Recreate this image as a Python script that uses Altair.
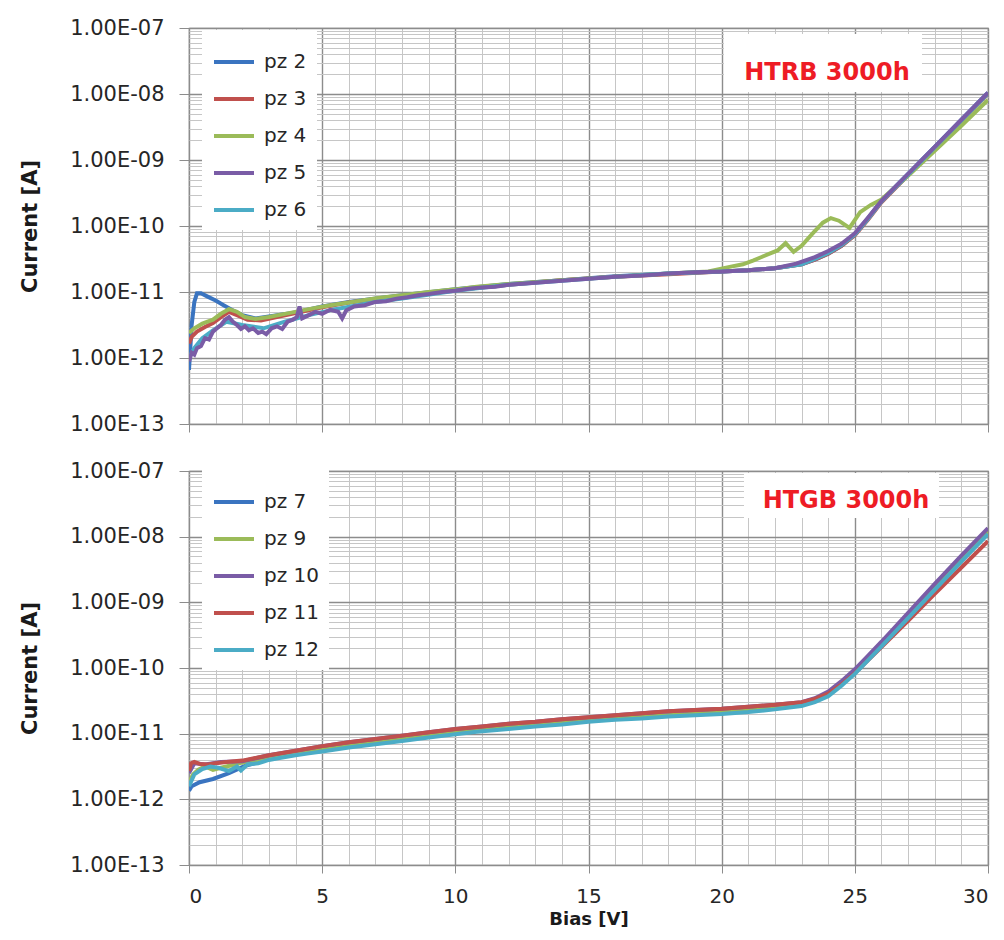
import altair as alt
import pandas as pd

# ---------------- data (log10 of current in A) ----------------
panel_labels = ["HTRB 3000h", "HTGB 3000h"]
htrb_series = ["pz 2", "pz 3", "pz 4", "pz 5", "pz 6"]
htgb_series = ["pz 7", "pz 9", "pz 10", "pz 11", "pz 12"]

# HTRB panel
pz2_v = [0, 0.05, 0.1, 0.2, 0.3, 0.45, 0.7, 1.0, 1.3, 1.6, 2.0, 2.5, 3, 4, 5, 6, 8, 10, 12, 14, 16, 18, 20, 21, 22, 23, 23.5, 24, 24.5, 25, 25.5, 26, 27, 28, 29, 30]
pz2_l = [-12.18, -11.85, -11.5, -11.15, -11.02, -11.02, -11.07, -11.13, -11.2, -11.27, -11.35, -11.4, -11.37, -11.31, -11.22, -11.15, -11.05, -10.96, -10.88, -10.82, -10.76, -10.72, -10.69, -10.67, -10.64, -10.58, -10.51, -10.42, -10.3, -10.13, -9.88, -9.62, -9.21, -8.8, -8.39, -7.98]

pz3_v = [0, 0.1, 0.3, 0.6, 0.9, 1.2, 1.5, 1.8, 2.2, 2.7, 3.3, 4, 5, 6, 8, 10, 12, 14, 16, 18, 20, 21, 22, 23, 23.5, 24, 24.5, 25, 25.5, 26, 27, 28, 29, 30]
pz3_l = [-11.78, -11.68, -11.6, -11.53, -11.47, -11.38, -11.3, -11.35, -11.42, -11.43, -11.38, -11.32, -11.23, -11.16, -11.06, -10.97, -10.89, -10.82, -10.77, -10.73, -10.69, -10.67, -10.64, -10.58, -10.51, -10.42, -10.3, -10.14, -9.9, -9.64, -9.23, -8.82, -8.41, -8.0]

pz4_v = [0, 0.2, 0.5, 0.9, 1.2, 1.5, 1.8, 2.1, 2.5, 3, 3.75, 4.5, 5.3, 6, 7.1, 8, 9, 10, 10.8, 12, 14, 16, 18, 19.5, 20.3, 20.8, 21.2, 21.5, 21.8, 22.1, 22.4, 22.7, 23.0, 23.4, 23.8, 24.1, 24.4, 24.8, 25.2, 25.6, 26, 27, 28, 29, 30]
pz4_l = [-11.62, -11.55, -11.48, -11.42, -11.33, -11.26, -11.3, -11.38, -11.41, -11.38, -11.32, -11.26, -11.2, -11.16, -11.09, -11.05, -11.0, -10.96, -10.92, -10.88, -10.82, -10.77, -10.72, -10.69, -10.62, -10.58, -10.52, -10.47, -10.42, -10.37, -10.26, -10.39, -10.3, -10.12, -9.95, -9.88, -9.92, -10.03, -9.79, -9.68, -9.6, -9.24, -8.86, -8.48, -8.09]

pz5_v = [0, 0.1, 0.2, 0.3, 0.45, 0.6, 0.75, 0.9, 1.05, 1.2, 1.35, 1.5, 1.65, 1.8, 1.95, 2.1, 2.25, 2.4, 2.6, 2.75, 2.9, 3.1, 3.3, 3.5, 3.7, 3.9, 4.05, 4.15, 4.25, 4.5, 4.75, 5.0, 5.3, 5.6, 5.75, 5.9, 6.2, 6.6, 7.0, 7.4, 7.8, 8.2, 8.6, 9.0, 9.5, 10, 10.5, 11, 11.5, 12, 13, 14, 15, 16, 17, 18, 19, 20, 21, 22, 22.8, 23.5, 24, 24.5, 25, 25.5, 26, 27, 28, 29, 30]
pz5_l = [-12.05, -11.92, -11.95, -11.85, -11.82, -11.7, -11.72, -11.6, -11.55, -11.5, -11.42, -11.38, -11.45, -11.5, -11.56, -11.52, -11.58, -11.55, -11.62, -11.6, -11.64, -11.55, -11.52, -11.56, -11.45, -11.42, -11.38, -11.22, -11.4, -11.35, -11.3, -11.33, -11.27, -11.3, -11.4, -11.28, -11.22, -11.2, -11.15, -11.14, -11.1, -11.08, -11.05, -11.03, -11.0, -10.98, -10.95, -10.93, -10.92, -10.89, -10.86, -10.83, -10.8, -10.77, -10.75, -10.72, -10.7, -10.69, -10.67, -10.64, -10.57, -10.47, -10.38, -10.27, -10.11, -9.87, -9.62, -9.21, -8.8, -8.39, -7.98]

pz6_v = [0, 0.2, 0.5, 0.9, 1.4, 2, 2.8, 3.6, 4.5, 5.5, 7, 8, 10, 12, 14, 16, 18, 20, 21, 22, 23, 23.5, 24, 24.5, 25, 25.5, 26, 27, 28, 29, 30]
pz6_l = [-12.0, -11.85, -11.7, -11.58, -11.45, -11.5, -11.55, -11.45, -11.35, -11.26, -11.15, -11.1, -10.98, -10.89, -10.83, -10.77, -10.72, -10.69, -10.67, -10.64, -10.58, -10.5, -10.41, -10.29, -10.13, -9.89, -9.63, -9.22, -8.81, -8.4, -7.99]

# HTGB panel
pz7_v = [0, 0.1, 0.4, 0.9, 1.5, 2.1, 3, 4, 5, 6, 8, 10, 12, 14, 16, 18, 20, 21, 22, 23, 23.5, 24, 24.5, 25, 25.5, 26, 27, 28, 29, 30]
pz7_l = [-11.87, -11.8, -11.74, -11.69, -11.6, -11.49, -11.39, -11.31, -11.24, -11.18, -11.08, -10.98, -10.9, -10.83, -10.77, -10.72, -10.67, -10.64, -10.61, -10.56, -10.5, -10.4, -10.24, -10.06, -9.85, -9.64, -9.2, -8.77, -8.34, -7.92]

pz9_v = [0, 0.15, 0.35, 0.6, 0.9, 1.2, 1.6, 2, 2.5, 3, 4, 5, 6, 8, 10, 12, 14, 16, 18, 20, 21, 22, 23, 23.5, 24, 24.5, 25, 25.5, 26, 27, 28, 29, 30]
pz9_l = [-11.75, -11.62, -11.55, -11.5, -11.55, -11.52, -11.48, -11.44, -11.41, -11.38, -11.31, -11.24, -11.18, -11.08, -10.98, -10.9, -10.83, -10.77, -10.72, -10.67, -10.64, -10.61, -10.56, -10.5, -10.4, -10.24, -10.06, -9.85, -9.64, -9.2, -8.77, -8.34, -7.92]

pz10_v = [0, 0.2, 0.6, 1.2, 2, 3, 4, 5, 6, 7, 8, 9, 10, 11, 12, 13, 14, 15, 16, 17, 18, 19, 20, 21, 22, 23, 23.5, 24, 24.5, 25, 25.5, 26, 27, 28, 29, 30]
pz10_l = [-11.6, -11.45, -11.47, -11.43, -11.42, -11.33, -11.26, -11.19, -11.13, -11.08, -11.03, -10.98, -10.93, -10.89, -10.85, -10.82, -10.78, -10.75, -10.72, -10.69, -10.66, -10.64, -10.62, -10.59, -10.56, -10.52, -10.46, -10.36, -10.2, -10.02, -9.81, -9.6, -9.16, -8.72, -8.29, -7.87]

pz11_v = [0, 0.08, 0.2, 0.4, 0.7, 1.0, 1.4, 2, 3, 4, 5, 6, 7, 8, 9, 10, 11, 12, 13, 14, 15, 16, 17, 18, 19, 20, 21, 22, 23, 23.5, 24, 24.5, 25, 25.5, 26, 27, 28, 29, 30]
pz11_l = [-11.57, -11.45, -11.43, -11.46, -11.47, -11.45, -11.43, -11.41, -11.33, -11.26, -11.19, -11.13, -11.08, -11.03, -10.98, -10.93, -10.89, -10.85, -10.82, -10.78, -10.75, -10.72, -10.69, -10.66, -10.64, -10.62, -10.59, -10.56, -10.52, -10.47, -10.39, -10.25, -10.08, -9.88, -9.68, -9.28, -8.87, -8.47, -8.07]

pz12_v = [0, 0.2, 0.5, 0.8, 1.1, 1.5, 1.8, 1.95, 2.2, 2.6, 3, 3.4, 4, 4.5, 5, 6, 7, 8, 9, 10, 10.8, 12, 13, 14, 15, 16, 17, 18, 19, 20, 21, 22, 23, 23.5, 24, 24.5, 25, 25.5, 26, 27, 28, 29, 30]
pz12_l = [-11.8, -11.62, -11.54, -11.5, -11.52, -11.57, -11.5, -11.56, -11.47, -11.45, -11.4, -11.37, -11.33, -11.3, -11.27, -11.21, -11.16, -11.11, -11.06, -11.01, -10.97, -10.93, -10.89, -10.86, -10.82, -10.79, -10.77, -10.74, -10.72, -10.7, -10.67, -10.63, -10.58, -10.52, -10.43, -10.27, -10.09, -9.88, -9.67, -9.24, -8.81, -8.38, -7.96]

top_curves = {"pz 2": (pz2_v, pz2_l), "pz 3": (pz3_v, pz3_l), "pz 4": (pz4_v, pz4_l),
              "pz 5": (pz5_v, pz5_l), "pz 6": (pz6_v, pz6_l)}
bot_curves = {"pz 7": (pz7_v, pz7_l), "pz 9": (pz9_v, pz9_l), "pz 10": (pz10_v, pz10_l),
              "pz 11": (pz11_v, pz11_l), "pz 12": (pz12_v, pz12_l)}

top_colors = ["#3a74c0", "#c0504d", "#9bbb59", "#7a5ca6", "#4bacc6"]
bot_colors = ["#3a74c0", "#9bbb59", "#7a5ca6", "#c0504d", "#4bacc6"]
top_draw_order = ["pz 2", "pz 3", "pz 4", "pz 6", "pz 5"]
bot_draw_order = ["pz 7", "pz 9", "pz 10", "pz 11", "pz 12"]


def to_frame(curves):
    rows = []
    for name, (vs, ls) in curves.items():
        for v, l in zip(vs, ls):
            rows.append({"series": name, "bias": v, "current": 10 ** l})
    return pd.DataFrame(rows)


df_top = to_frame(top_curves)
df_bot = to_frame(bot_curves)

# ---------------- axes ----------------
FONT = "DejaVu Sans"
x_ticks = list(range(0, 31))
y_ticks = [m * 10.0 ** e for e in range(-13, -7) for m in range(1, 10)] + [1e-7]

y_major = "abs(log(datum.value)/LN10 - round(log(datum.value)/LN10)) < 0.001"
x_major = "datum.value % 5 == 0"
y_label_expr = ("(" + y_major + ") ? '1.00E-' + (abs(round(log(datum.value)/LN10)) < 10 ? '0' : '') "
                "+ abs(round(log(datum.value)/LN10)) : ''")
MAJOR = "#8c8c8c"
MINOR = "#c6c6c6"


def y_axis():
    return alt.Axis(
        values=y_ticks, labelExpr=y_label_expr, labelOverlap=False, labelBound=False,
        labelFont=FONT, labelFontSize=21, labelColor="#262626", labelPadding=15,
        grid=True,
        gridColor={"condition": {"test": y_major, "value": MAJOR}, "value": MINOR},
        gridWidth={"condition": {"test": y_major, "value": 1.4}, "value": 1},
        ticks=True, tickSize=10, tickColor=MAJOR,
        tickOpacity={"condition": {"test": y_major, "value": 1}, "value": 0},
        domain=False,
        title="Current [A]", titleFont=FONT, titleFontSize=21, titleFontWeight="bold",
        titleColor="#1a1a1a", titlePadding=29,
    )


def x_axis(show_labels):
    kw = dict(
        values=x_ticks, labelOverlap=False, labelBound=False,
        grid=True,
        gridColor={"condition": {"test": x_major, "value": MAJOR}, "value": MINOR},
        gridWidth={"condition": {"test": x_major, "value": 1.4}, "value": 1},
        ticks=True, tickSize=8, tickColor=MAJOR,
        tickOpacity={"condition": {"test": x_major, "value": 1}, "value": 0},
        domain=False,
    )
    if show_labels:
        kw.update(labelExpr="(" + x_major + ") ? format(datum.value, 'd') : ''",
                  labelFont=FONT, labelFontSize=20, labelColor="#262626", labelPadding=13,
                  title="Bias [V]", titleFont=FONT, titleFontSize=18, titleFontWeight="bold",
                  titleColor="#1a1a1a", titlePadding=4)
    else:
        kw.update(labels=False, title=None)
    return alt.Axis(**kw)


def panel(df, series, colors, order, show_x, label, box, text_xy, legend_y, height):
    color_enc = alt.Color(
        "series:N",
        scale=alt.Scale(domain=series, range=colors),
        legend=alt.Legend(
            orient="none", legendX=13, legendY=legend_y, title=None,
            fillColor="white", padding=10, symbolType="stroke", symbolSize=1600,
            symbolStrokeWidth=4, labelFont=FONT, labelFontSize=20, labelColor="#262626",
            labelOffset=8, rowPadding=5,
        ),
    )
    layers = []
    for s in order:
        layers.append(
            alt.Chart(df)
            .transform_filter(alt.datum.series == s)
            .mark_line(strokeWidth=4, clip=True)
            .encode(
                x=alt.X("bias:Q", scale=alt.Scale(domain=[0, 30], nice=False), axis=x_axis(show_x)),
                y=alt.Y("current:Q", scale=alt.Scale(type="log", domain=[1e-13, 1e-7], nice=False),
                        axis=y_axis()),
                color=color_enc,
            )
        )
    lab = pd.DataFrame({"t": [label]})
    rect = alt.Chart(lab).mark_rect(color="white").encode(
        x=alt.value(box[0]), x2=alt.value(box[1]), y=alt.value(box[2]), y2=alt.value(box[3]))
    txt = alt.Chart(lab).mark_text(
        font=FONT, fontSize=24, fontWeight="bold", color="#ee1c25", align="center", baseline="middle"
    ).encode(x=alt.value(text_xy[0]), y=alt.value(text_xy[1]), text="t:N")
    return alt.layer(*layers, rect, txt).properties(width=799, height=height)


top = panel(df_top, htrb_series, top_colors, top_draw_order, False, panel_labels[0],
            (535, 733, 6, 64), (638, 45), 2, 396)
bot = panel(df_bot, htgb_series, bot_colors, bot_draw_order, True, panel_labels[1],
            (555, 750, 2, 47), (657, 30), -1, 394)

chart = (
    alt.vconcat(top, bot, spacing=24)
    .resolve_scale(color="independent")
    .resolve_legend(color="independent")
    .properties(padding={"left": 11, "top": 8, "right": 0, "bottom": 2}, background="white")
    .configure_view(stroke=MAJOR, strokeWidth=1.2)
)

chart.save("out.html", embed_options={"renderer": "svg", "actions": False})
